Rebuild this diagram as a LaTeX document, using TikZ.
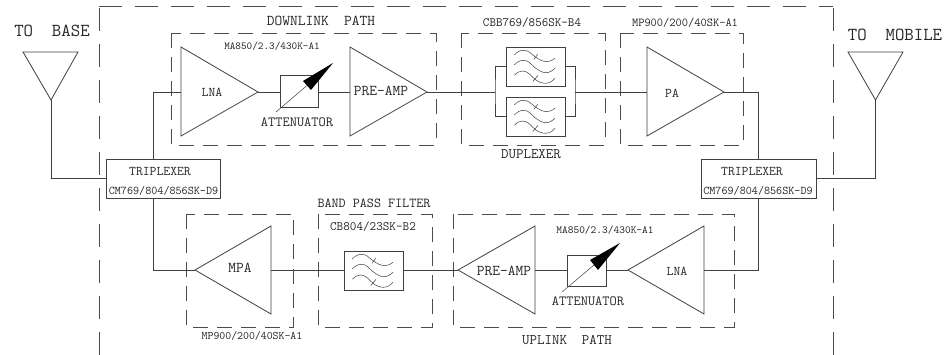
\documentclass[tikz,border=0pt]{standalone}
\tikzset{
  wire/.style={line width=0.8pt,draw=black!75},
  part/.style={wire,fill=white},
  boxpart/.style={wire,rectangle,inner sep=0pt,outer sep=0pt},
  zone/.style={line width=0.8pt,draw=black!70,dash pattern=on 15pt off 9pt},
  outer/.style={line width=0.8pt,draw=black!70,dash pattern=on 23pt off 13pt},
  lbl/.style={inner sep=0pt,outer sep=0pt,font=\ttfamily,text=black!85,align=center},
  fine/.style={line width=0.5pt,draw=black!75},
}
\newcommand{\fs}[1]{\fontsize{#1}{#1}\selectfont}
% filter symbol: node name
\newcommand{\filtersym}[1]{%
  \begin{scope}[shift={(#1.north west)}]
    \draw[fine] (8.3,8) .. controls (11,5) and (14,3.3) .. (17.7,3.3) .. controls (23,3.3) and (25,7) .. (29,9.7) .. controls (33,12.5) and (37,14.7) .. (41,14.7) .. controls (44,14.7) and (47,13) .. (49,11.3);
    \draw[fine] (8.3,18) .. controls (11,15) and (14,13.3) .. (17.7,13.3) .. controls (23,13.3) and (25,17.5) .. (29,20.7) .. controls (33,23.5) and (36,25.7) .. (40,25.7) .. controls (44,25.7) and (47,23) .. (49,21.3);
    \draw[fine] (8.3,28.3) .. controls (11,25.5) and (13.5,24) .. (16.7,24) .. controls (22,24) and (25,29) .. (29,32.3) .. controls (32,34.8) and (36,36.3) .. (39.5,36.3) .. controls (44,36.3) and (47,33.5) .. (49,31.3);
    \draw[fine] (28,12.3) -- (31.7,7.3);
    \draw[fine] (26.7,34.7) -- (32,28.3);
  \end{scope}}
\begin{document}
\begin{tikzpicture}[x=1pt,y=-1pt]
\useasboundingbox (0,0) rectangle (947,355);
\fill[white] (0,0) rectangle (947,355);

% dashed frames
\draw[outer] (99,355) -- (99,6);
\draw[outer] (833,355) -- (833,6);
\draw[outer] (99,6) -- (833,6);
\draw[zone] (171,33) rectangle (436,145);
\draw[zone] (461,33) rectangle (605,145);
\draw[zone] (620,33) rectangle (743,145);
\draw[zone] (186,214) rectangle (293.5,327);
\draw[zone] (318,214) rectangle (432,327);
\draw[zone] (453,214) rectangle (734,327);

% triplexers
\node[boxpart,part,minimum width=114.5pt,minimum height=39.5pt] (tl) at (163.25,178.75) {};
\node[boxpart,part,minimum width=115pt,minimum height=39.5pt] (tr) at (758.5,178.75) {};
\coordinate (tlTap) at (153.5,178.75);

% amplifier anchors
\coordinate (lnaIn) at (181,92);   \coordinate (lnaOut) at (258,92);
\coordinate (preIn) at (350,92);   \coordinate (preOut) at (427,92);
\coordinate (paIn) at (647,92);    \coordinate (paOut) at (724,92);
\coordinate (mpaIn) at (271,270);  \coordinate (mpaOut) at (195,270);
\coordinate (upreIn) at (535,270); \coordinate (upreOut) at (458,270);
\coordinate (ulnaIn) at (704,270); \coordinate (ulnaOut) at (628,270);
\coordinate (antL) at (51,100);    \coordinate (antR) at (875.5,100);

% amplifiers and antennas
\draw[wire] (181,47) -- (181,136) -- (lnaOut) -- cycle;
\draw[wire] (350,47) -- (350,136) -- (preOut) -- cycle;
\draw[wire] (647,47) -- (647,136) -- (paOut) -- cycle;
\draw[wire] (271,226) -- (271,314) -- (mpaOut) -- cycle;
\draw[wire] (535,226) -- (535,314) -- (upreOut) -- cycle;
\draw[wire] (704,226) -- (704,314) -- (ulnaOut) -- cycle;
\draw[wire] (23,52) -- (78,52) -- (antL) -- cycle;
\draw[wire] (848,52) -- (903,52) -- (antR) -- cycle;

% attenuators
\node[boxpart,draw,wire,minimum width=38pt,minimum height=32.5pt] (att1) at (299,91.25) {};
\node[boxpart,draw,wire,minimum width=39pt,minimum height=31pt] (att2) at (586.5,270.5) {};
\draw[fine] (276,112) -- (307,85.5);
\fill[black] (333,63) -- (303,81) -- (311,90) -- cycle;
\draw[fine] (562,292) -- (594,265);
\fill[black] (620,243) -- (590,260) -- (598,270) -- cycle;

% filters
\node[boxpart,draw,wire,minimum width=59pt,minimum height=39pt] (f1) at (535.5,66.5) {};
\node[boxpart,draw,wire,minimum width=59pt,minimum height=39pt] (f2) at (535.5,116.5) {};
\node[boxpart,draw,wire,minimum width=59pt,minimum height=39pt] (f3) at (373.5,270.5) {};
\filtersym{f1}\filtersym{f2}\filtersym{f3}

% junctions of the duplexer
\coordinate (dupL) at (495,92);
\coordinate (dupR) at (575,92);

% connectors
\draw[wire] (antL) |- (tl.west |- 0,178);
\draw[wire] (antR) |- (tr.east |- 0,178);
\draw[wire] (lnaIn) -| (tlTap |- tl.north);
\draw[wire] (paOut) -| (tr.north);
\draw[wire] (mpaOut) -| (tlTap |- tl.south);
\draw[wire] (ulnaIn) -| (tr.south);
\draw[wire] (lnaOut) -- (att1.west |- lnaOut);
\draw[wire] (att1.east |- preIn) -- (preIn);
\draw[wire] (preOut) -- (dupL);
\draw[wire] (dupR) -- (paIn);
\draw[wire] (f1.west) -| (dupL) |- (f2.west);
\draw[wire] (f1.east) -| (dupR) |- (f2.east);
\draw[wire] (mpaIn) -- (f3.west |- mpaIn);
\draw[wire] (f3.east |- upreOut) -- (upreOut);
\draw[wire] (upreIn) -- (att2.west |- upreIn);
\draw[wire] (att2.east |- ulnaOut) -- (ulnaOut);

% labels
\node[lbl,font=\ttfamily\fs{18.3}] (tbase) at (52,31) {TO\ \ BASE};
\node[lbl,font=\ttfamily\fs{18.3}] (tmob) at (895,35) {TO\ \ MOBILE};
\node[lbl,font=\ttfamily\fs{15}] (dlp) at (321,21) {DOWNLINK\ \ PATH};
\node[lbl,font=\ttfamily\fs{10.7}] (m1) at (272,46) {MA850/2.3/430K-A1};
\node[lbl,font=\ttfamily\fs{12.7}] (cbb) at (532,23) {CBB769/856SK-B4};
\node[lbl,font=\ttfamily\fs{12.1}] (mp1) at (685,23) {MP900/200/40SK-A1};
\node[lbl,font=\ttfamily\fs{13.3}] (l1) at (212,92) {LNA};
\node[lbl,font=\ttfamily\fs{15}] (p1) at (381,91) {PRE-AMP};
\node[lbl,font=\ttfamily\fs{13.3}] (pa) at (672,93) {PA};
\node[lbl,font=\ttfamily\fs{14}] (a1) at (297,122) {ATTENUATOR};
\node[lbl,font=\ttfamily\fs{14.5}] (dup) at (531,154) {DUPLEXER};
\node[lbl,font=\ttfamily\fs{13.3}] (t1) at (160,172) {TRIPLEXER};
\node[lbl,font=\ttfamily\fs{11.8}] (c1) at (163.5,191) {CM769/804/856SK-D9};
\node[lbl,font=\ttfamily\fs{13.3}] (t2) at (752,172) {TRIPLEXER};
\node[lbl,font=\ttfamily\fs{11.8}] (c2) at (758,191) {CM769/804/856SK-D9};
\node[lbl,font=\ttfamily\fs{13.7}] (bpf) at (374,203) {BAND PASS FILTER};
\node[lbl,font=\ttfamily\fs{12.8}] (cb) at (373,227) {CB804/23SK-B2};
\node[lbl,font=\ttfamily\fs{15}] (mpa) at (240,268) {MPA};
\node[lbl,font=\ttfamily\fs{11.5}] (mp2) at (252,336) {MP900/200/40SK-A1};
\node[lbl,font=\ttfamily\fs{15}] (p2) at (504,271) {PRE-AMP};
\node[lbl,font=\ttfamily\fs{10.9}] (m2) at (605,230) {MA850/2.3/430K-A1};
\node[lbl,font=\ttfamily\fs{14}] (a2) at (588,301) {ATTENUATOR};
\node[lbl,font=\ttfamily\fs{13.3}] (l2) at (677,271) {LNA};
\node[lbl,font=\ttfamily\fs{14.5}] (ulp) at (567,340) {UPLINK\ \ PATH};
\end{tikzpicture}
\end{document}
